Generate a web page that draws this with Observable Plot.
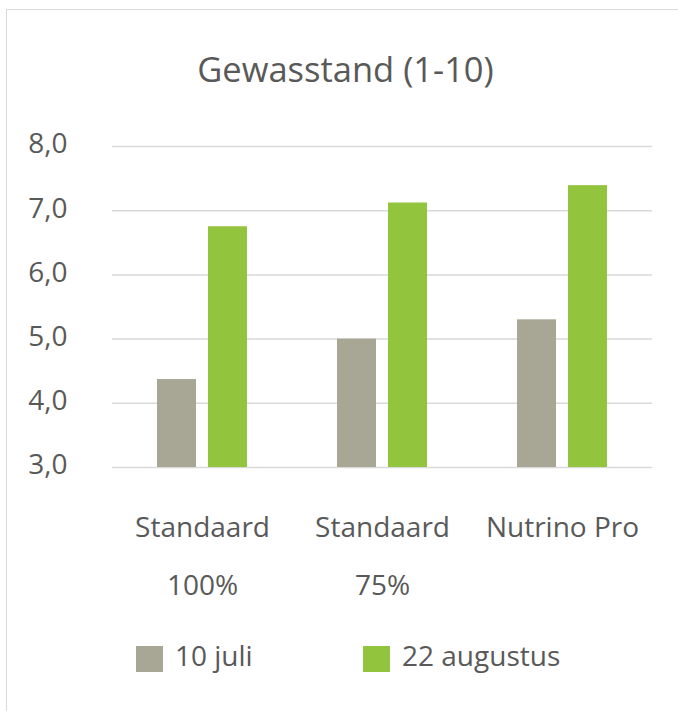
<!DOCTYPE html>
<html>
<head>
<meta charset="utf-8">
<script src="https://cdn.jsdelivr.net/npm/d3@7"></script>
<script src="https://cdn.jsdelivr.net/npm/@observablehq/plot@0.6"></script>
<style>
  html, body { margin: 0; padding: 0; background: #fff; }
  #root { position: relative; width: 678px; height: 711px; overflow: hidden; font-family: "Open Sans", sans-serif; color: #595959; }
  #frame { position: absolute; left: 6px; top: 9px; width: 760px; height: 800px; border-left: 1.5px solid #d9d9d9; border-top: 1.5px solid #d9d9d9; box-sizing: border-box; }
  #title { position: absolute; left: 0; top: 45px; width: 691px; text-align: center; font-size: 34.5px; line-height: 1.362; white-space: nowrap; }
  #chart { position: absolute; left: 0; top: 0; }
  .sw { position: absolute; width: 27px; height: 26px; }
  .lt { position: absolute; font-size: 28px; line-height: 1.362; white-space: nowrap; }
</style>
</head>
<body>
<div id="root">
  <div id="frame"></div>
  <div id="title">Gewasstand (1-10)</div>
  <div id="chart"></div>
</div>
<script>
// ---- data ----
const categories = ["Standaard 100%", "Standaard 75%", "Nutrino Pro"];
const categoryLabels = ["Standaard\n100%", "Standaard\n75%", "Nutrino Pro"];
const series = ["10 juli", "22 augustus"];
const juli = [4.37, 5.0, 5.3];
const augustus = [6.75, 7.12, 7.39];
const yTicks = [3, 4, 5, 6, 7, 8];
const yMin = 3, yMax = 8;
const colors = ["#A8A694", "#92C43D"];

const rows = [];
categories.forEach((c, i) => {
  rows.push({cat: c, series: series[0], value: juli[i]});
  rows.push({cat: c, series: series[1], value: augustus[i]});
});
const catRows = categories.map((c, i) => ({cat: c, label: categoryLabels[i]}));

const chart = Plot.plot({
  width: 678,
  height: 711,
  marginLeft: 111,
  marginRight: 25,
  marginTop: 146,
  marginBottom: 244,
  style: {fontFamily: "Open Sans, sans-serif", color: "#595959", background: "transparent", overflow: "visible"},
  fx: {domain: categories, padding: 0, axis: null},
  x: {domain: series, paddingInner: 0.2308, paddingOuter: 0.853, axis: null},
  y: {domain: [yMin, yMax], axis: null},
  color: {domain: series, range: colors},
  marks: [
    Plot.ruleY(yTicks, {stroke: "#d9d9d9", strokeWidth: 1.5}),
    Plot.barY(rows, {fx: "cat", x: "series", y1: yMin, y2: "value", fill: "series"}),
    Plot.text(catRows, {fx: "cat", text: "label", frameAnchor: "bottom", lineAnchor: "top", dy: 28, lineHeight: 2.08, fontSize: 28, fill: "#595959"}),
    Plot.axisY({ticks: yTicks, tickFormat: d => d.toFixed(1).replace(".", ","), tickSize: 0, tickPadding: 45, fontSize: 28, dy: -2, label: null})
  ]
});
document.getElementById("chart").appendChild(chart);

// legend
const root = document.getElementById("root");
const legendPos = [{sw: 136, tx: 175}, {sw: 363, tx: 402}];
series.forEach((s, i) => {
  const sw = document.createElement("div");
  sw.className = "sw";
  sw.style.left = legendPos[i].sw + "px";
  sw.style.top = "646px";
  sw.style.background = colors[i];
  root.appendChild(sw);
  const t = document.createElement("div");
  t.className = "lt";
  t.style.left = legendPos[i].tx + "px";
  t.style.top = "636px";
  t.textContent = s;
  root.appendChild(t);
});
</script>
</body>
</html>
